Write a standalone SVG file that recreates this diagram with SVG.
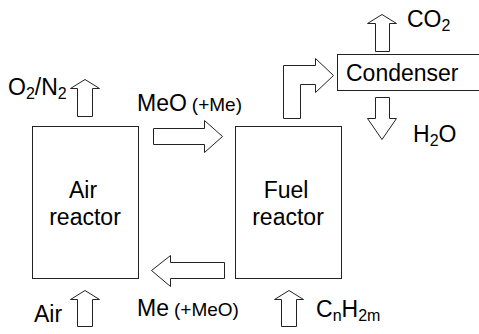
<svg xmlns="http://www.w3.org/2000/svg" width="479" height="334" viewBox="0 0 479 334">
<style>
.box{fill:#fff;stroke:#222;stroke-width:1}
.arr{fill:#fff;stroke:#222;stroke-width:1;stroke-linejoin:miter}
text{font-family:"Liberation Sans",Arial,Helvetica,sans-serif;fill:#000}
.t{font-size:23px}
.s{font-size:19px}
.sub{font-size:16px}
</style>
<rect width="479" height="334" fill="#fff"/>
<g id="air-reactor">
<rect class="box" x="32.5" y="126.5" width="106" height="152"/>
<text class="t" x="83" y="198" text-anchor="middle">Air</text>
<text class="t" x="85" y="225" text-anchor="middle">reactor</text>
</g>
<g id="fuel-reactor">
<rect class="box" x="235.5" y="126.5" width="106" height="152"/>
<text class="t" x="286" y="198" text-anchor="middle">Fuel</text>
<text class="t" x="288" y="225" text-anchor="middle">reactor</text>
</g>
<g id="condenser">
<rect class="box" x="337.5" y="54.5" width="160" height="36"/>
<text class="t" x="346" y="81">Condenser</text>
</g>
<g id="connectors">
<polygon class="arr" points="77.5,116.5 77.5,88.5 70.5,88.5 85,79.5 99.5,88.5 92.5,88.5 92.5,116.5"/>
<polygon class="arr" points="153.5,128.5 204.5,128.5 204.5,120.5 222.5,136.5 204.5,152.5 204.5,144.5 153.5,144.5"/>
<polygon class="arr" points="224.5,262.5 170.5,262.5 170.5,255.5 151.5,270.5 170.5,286.5 170.5,278.5 224.5,278.5"/>
<polygon class="arr" points="283.5,118.5 283.5,65.5 315.5,65.5 315.5,58.5 333.5,75.5 315.5,92.5 315.5,84.5 300.5,84.5 300.5,118.5"/>
<polygon class="arr" points="375.5,51.5 375.5,23.5 367.5,23.5 382,14.5 396.5,23.5 389.5,23.5 389.5,51.5"/>
<polygon class="arr" points="375.5,97.5 375.5,118.5 367.5,118.5 382,139.5 396.5,118.5 389.5,118.5 389.5,97.5"/>
<polygon class="arr" points="77.5,326.5 77.5,299.5 70.5,299.5 85,290.5 99.5,299.5 92.5,299.5 92.5,326.5"/>
<polygon class="arr" points="281.5,326.5 281.5,299.5 274.5,299.5 289,290.5 303.5,299.5 296.5,299.5 296.5,326.5"/>
</g>
<g id="labels">
<text class="t" x="8" y="95">O<tspan class="sub" dy="4">2</tspan><tspan dy="-4">/N</tspan><tspan class="sub" dy="4">2</tspan></text>
<text x="137" y="111"><tspan class="t">MeO</tspan><tspan class="s" dx="5">(+Me)</tspan></text>
<text class="t" x="407" y="27">CO<tspan class="sub" dy="4">2</tspan></text>
<text class="t" x="413" y="142">H<tspan class="sub" dy="4">2</tspan><tspan dy="-4">O</tspan></text>
<text class="t" x="34" y="322">Air</text>
<text x="137" y="316"><tspan class="t">Me</tspan><tspan class="s" dx="5">(+MeO)</tspan></text>
<text class="t" x="316" y="317">C<tspan class="sub" dy="4">n</tspan><tspan dy="-4">H</tspan><tspan class="sub" dy="4">2m</tspan></text>
</g>
</svg>
